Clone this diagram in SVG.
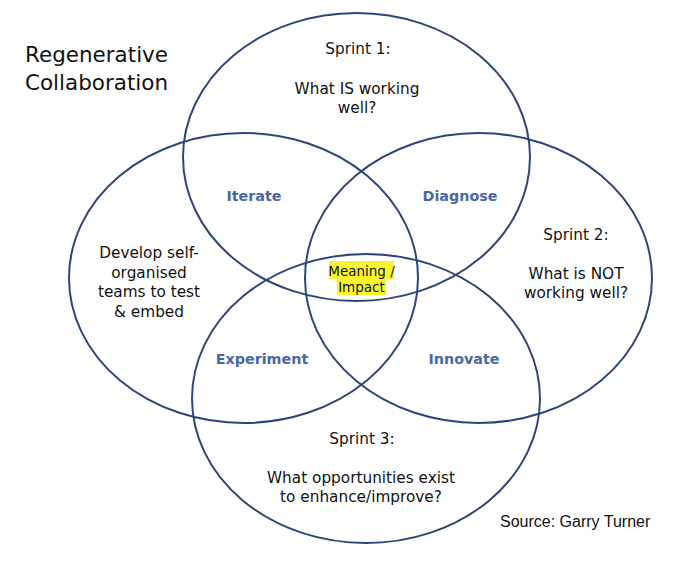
<svg xmlns="http://www.w3.org/2000/svg" width="686" height="565" viewBox="0 0 686 565">
<style>
.ring{fill:none;stroke:#2e4677;stroke-width:2}
.t{font-family:"Comic Sans MS","DejaVu Sans","Noto Sans",sans-serif;font-size:15.3px;fill:#111;text-anchor:middle}
.lbl{font-family:"Comic Sans MS","DejaVu Sans","Noto Sans",sans-serif;font-size:14.3px;font-weight:bold;fill:#4a68a6;text-anchor:middle}
.title{font-family:"Comic Sans MS","DejaVu Sans","Noto Sans",sans-serif;font-size:21px;fill:#111}
.src{font-family:"Liberation Sans",Arial,sans-serif;font-size:16px;fill:#111}
.hl{fill:#f7f52e}
</style>
<rect width="686" height="565" fill="#ffffff"/>
<g id="connectors"></g>
<g id="title">
<text class="title" x="25" y="62" textLength="143" lengthAdjust="spacingAndGlyphs">Regenerative</text>
<text class="title" x="25" y="90" textLength="143" lengthAdjust="spacingAndGlyphs">Collaboration</text>
</g>
<g id="sprint1">
<ellipse class="ring" cx="356.5" cy="157" rx="173.5" ry="144"/>
<text class="t" x="358" y="54">Sprint 1:</text>
<text class="t" x="357" y="94">What IS working</text>
<text class="t" x="357" y="113">well?</text>
</g>
<g id="develop">
<ellipse class="ring" cx="243.5" cy="278" rx="174.5" ry="145"/>
<text class="t" x="149" y="258">Develop self-</text>
<text class="t" x="149" y="277.5">organised</text>
<text class="t" x="149" y="297">teams to test</text>
<text class="t" x="149" y="316.5">&amp; embed</text>
</g>
<g id="sprint2">
<ellipse class="ring" cx="478.5" cy="278" rx="173.5" ry="145"/>
<text class="t" x="576" y="240">Sprint 2:</text>
<text class="t" x="576" y="279">What is NOT</text>
<text class="t" x="576" y="298">working well?</text>
</g>
<g id="sprint3">
<ellipse class="ring" cx="366" cy="398.5" rx="174" ry="144.5"/>
<text class="t" x="362" y="444">Sprint 3:</text>
<text class="t" x="361" y="483">What opportunities exist</text>
<text class="t" x="361" y="502">to enhance/improve?</text>
</g>
<g id="iterate"><text class="lbl" x="254" y="201">Iterate</text></g>
<g id="diagnose"><text class="lbl" x="460" y="201">Diagnose</text></g>
<g id="experiment"><text class="lbl" x="262" y="364">Experiment</text></g>
<g id="innovate"><text class="lbl" x="464" y="364">Innovate</text></g>
<g id="meaning">
<rect class="hl" x="329" y="261" width="65" height="18"/>
<rect class="hl" x="337" y="279" width="49" height="16"/>
<text class="t" x="361.5" y="276" style="font-size:13.5px">Meaning /</text>
<text class="t" x="361.5" y="292" style="font-size:13.5px">Impact</text>
</g>
<g id="source"><text class="src" x="500" y="527">Source: Garry Turner</text></g>
</svg>
